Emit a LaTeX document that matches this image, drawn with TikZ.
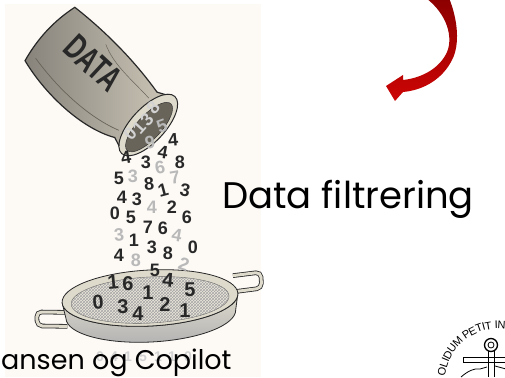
\documentclass[tikz,border=0pt]{standalone}
\usepackage{fontspec}
\setmainfont{Poppins}
\newfontfamily\digitfont{Liberation Sans}
\newfontfamily\sealfont{Liberation Sans}
\usetikzlibrary{patterns}
\definecolor{bgpaper}{RGB}{253,250,246}
\definecolor{bagbase}{RGB}{205,199,184}
\definecolor{bagdark}{RGB}{105,100,90}
\definecolor{inkdark}{RGB}{40,40,40}
\definecolor{panlight}{RGB}{222,218,204}
\definecolor{meshbase}{RGB}{236,232,220}
\definecolor{arrowdark}{RGB}{140,0,0}
\definecolor{arrowred}{RGB}{205,5,5}

\begin{document}
\begin{tikzpicture}[x=1pt,y=-1pt,
    digit/.style={font=\digitfont\bfseries\fontsize{18}{18}\selectfont, text=inkdark, inner sep=0pt},
    digitlight/.style={digit, text=gray!55},
    pandigit/.style={digit, font=\digitfont\bfseries\fontsize{20}{20}\selectfont},
    fadedigit/.style={digit, text=gray!35, font=\digitfont\bfseries\fontsize{14}{14}\selectfont},
    handle/.style={draw=inkdark, double=panlight, double distance=3pt, line width=0.8pt, rounded corners=5pt},
    sealtext/.style={font=\sealfont\fontsize{11}{11}\selectfont, inner sep=0pt}]
    \useasboundingbox (0,0) rectangle (505,377);
    % Bakgrunn
    \fill[bgpaper] (5,4) rectangle (261,377);
    % Sekken
    \begin{scope}[shift={(100,80)}, rotate=-43]
        \shade[left color=bagdark!80, right color=bagbase, draw=inkdark, line width=1.2pt]
            (-68,-36) .. controls (-20,-40) and (20,-36) .. (50,-30) -- (64,-37)
            -- (64,37) -- (50,32) .. controls (20,48) and (-30,48) .. (-68,37)
            .. controls (-74,12) and (-74,-12) .. (-68,-36) -- cycle;
        \draw[bagdark, line width=0.7pt] (-62,28) .. controls (-20,36) and (20,34) .. (48,24);
        \draw[bagdark, line width=0.5pt] (-20,-30) .. controls (0,-20) and (25,-22) .. (48,-20);
        % Munning
        \filldraw[fill=panlight, draw=inkdark, line width=1pt] (66,0) ellipse[x radius=17, y radius=39];
        \filldraw[fill=bagdark, draw=inkdark] (68,1) ellipse[x radius=12, y radius=32];
    \end{scope}
    \node[font=\digitfont\bfseries\fontsize{36}{36}\selectfont, text=inkdark, rotate=-43] (datalabel) at (93,63) {\scalebox{0.68}[1]{DATA}};
    % Sil
    \begin{scope}[shift={(150,298)}, rotate=3]
        \draw[handle] (-84,10) -- (-114,8) -- (-114,22) -- (-84,24);
        \draw[handle] (84,-18) -- (112,-20) -- (112,-4) -- (86,-2);
        \shade[top color=panlight, bottom color=gray!60, draw=inkdark, line width=0.8pt]
            (-88,0) -- (-85,16) arc[start angle=180, end angle=0, x radius=85, y radius=28]
            -- (88,0) arc[start angle=0, end angle=180, x radius=88, y radius=28] -- cycle;
        \filldraw[fill=panlight, draw=inkdark, line width=0.8pt] (0,0) ellipse[x radius=88, y radius=28];
        \filldraw[fill=meshbase, draw=inkdark!80] (0,2) ellipse[x radius=79, y radius=23];
        \fill[pattern=crosshatch, pattern color=gray!70] (0,2) ellipse[x radius=79, y radius=23];
    \end{scope}
    % Tall i munningen
    \foreach \d/\x/\y [count=\i] in {8/153/108,3/147/120,1/139/128,0/130/134}
        \node[digitlight, text=gray!35, rotate=48] (m\i) at (\x,\y) {\d};
    % Tall som faller
    \foreach \d/\x/\y/\r [count=\i] in {4/173/140/5,4/163/152/-10,4/126/158/10,3/146/162/0,8/180/162/0,
        5/119/178/0,8/149/184/5,1/163/190/15,3/185/190/-10,4/122/197/0,3/137/199/0,2/172/207/0,
        0/115/213/0,5/131/217/0,6/187/217/0,1/134/240/0,7/148/227/0,6/163/228/0,0/193/247/0,
        3/152/247/0,8/168/253/0,4/119/255/0,5/155/270/0}
        \node[digit, rotate=\r] (s\i) at (\x,\y) {\d};
    \foreach \d/\x/\y/\r [count=\i] in {5/162/126/20,9/150/143/10,6/160/168/10,3/133/176/0,7/175/178/10,
        4/152/207/0,3/119/235/5,4/177/235/-10,8/136/260/0,2/184/264/-20}
        \node[digitlight, rotate=\r] (l\i) at (\x,\y) {\d};
    % Tall i silen
    \foreach \d/\x/\y/\r [count=\i] in {1/113/282/5,6/128/284/0,4/168/280/-5,5/190/290/0,1/148/293/0,
        0/98/302/5,3/123/307/0,4/138/314/0,2/165/305/0,1/185/311/0}
        \node[pandigit, rotate=\r] (p\i) at (\x,\y) {\d};
    % Tall under silen
    \foreach \d/\x [count=\i] in {0/100,4/114,1/128,5/143,1/158,1/172,0/188}
        \node[fadedigit] (f\i) at (\x,357) {\d};
    % Tekst
    \node[anchor=base west, inner sep=0pt, font=\fontsize{37}{37}\selectfont] (title) at (222,208) {Data filtrering};
    \node[anchor=base west, inner sep=0pt, font=\fontsize{27}{27}\selectfont] (credit) at (1,369) {ansen og Copilot};
    % Segl
    \foreach \ch/\a [count=\i] in {O/169,L/161.7,I/157.1,D/151.6,U/143.7,M/135.1,P/123.8,E/116.5,
        T/109.5,I/104.6,T/99.7,I/91.8,N/86.3}
        \node[sealtext, rotate=\a-90] (seal\i) at ({498+57*cos(\a)},{382-57*sin(\a)}) {\ch};
    \draw[line width=1.3pt] (491,345) circle[radius=6.5];
    \draw[line width=0.8pt] (491,345) circle[radius=3];
    \draw[line width=0.9pt] (488,351) -- (488,377) (494,351) -- (494,377);
    \draw[line width=0.9pt] (463,357) rectangle (506,362);
    \draw[line width=0.8pt] (461,377) .. controls (468,371) and (474,368) .. (480,369) -- (487,367);
    \draw[line width=0.8pt] (495,366) -- (506,369);
    % Pil
    \shade[top color=arrowdark, bottom color=arrowred]
        (449,-2) .. controls (458,20) and (460,45) .. (452,60)
        .. controls (443,78) and (425,90) .. (403,92)
        -- (395,101) -- (386,86) -- (403,75) -- (403,80)
        .. controls (422,78) and (440,68) .. (447,52)
        .. controls (453,38) and (448,15) .. (426,-2) -- cycle;
\end{tikzpicture}
\end{document}
